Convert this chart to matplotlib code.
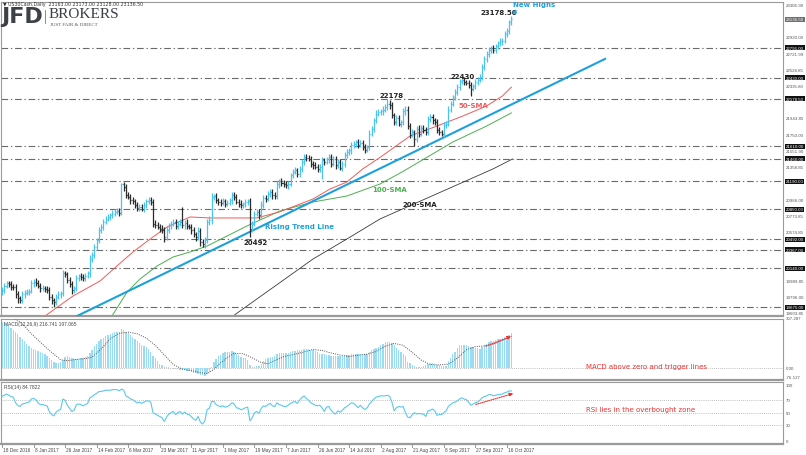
import matplotlib
matplotlib.use('Agg')
import matplotlib.pyplot as plt
import numpy as np

# ---------------- DATA ----------------
date_labels = ['18 Dec 2016', '8 Jan 2017', '26 Jan 2017', '14 Feb 2017', '6 Mar 2017',
               '23 Mar 2017', '11 Apr 2017', '1 May 2017', '19 May 2017', '7 Jun 2017',
               '26 Jun 2017', '14 Jul 2017', '2 Aug 2017', '21 Aug 2017', '8 Sep 2017',
               '27 Sep 2017', '16 Oct 2017']
label_step = 14

first_open = 19860
close = [
    19880, 19930, 19960, 19950, 19920, 19915, 19830, 19780, 19760, 19830,
    19850, 19860, 19870, 19960, 19980, 19970, 19930, 19900, 19900, 19890,
    19880, 19800, 19760, 19740, 19800, 19830, 19840, 20080, 20070, 20000,
    19950, 19880, 19900, 20030, 20050, 20040, 20020, 20050, 20080, 20250,
    20300, 20400, 20480, 20600, 20640, 20700, 20740, 20760, 20780, 20800,
    20820, 20830, 20810, 21150, 21120, 21020, 21000, 20960, 20950, 20900,
    20870, 20880, 20860, 20900, 20950, 20960, 20940, 20680, 20660, 20640,
    20620, 20600, 20520, 20600, 20660, 20680, 20700, 20650, 20680, 20700,
    20660, 20690, 20650, 20640, 20600, 20550, 20520, 20590, 20460, 20430,
    20480, 20700, 20720, 21000, 21010, 20960, 20940, 20930, 20950, 20920,
    20930, 20960, 21020, 21000, 20940, 20920, 20900, 20910, 20940, 20950,
    20620, 20680, 20800, 20820, 20780, 20900, 20990, 20980, 21030, 21060,
    21020, 21010, 21150, 21190, 21170, 21150, 21140, 21160, 21260, 21300,
    21320, 21280, 21330, 21420, 21480, 21470, 21460, 21400, 21380, 21360,
    21340, 21360, 21440, 21420, 21450, 21480, 21400, 21460, 21380, 21420,
    21350, 21400, 21500, 21540, 21560, 21620, 21640, 21660, 21630, 21650,
    21600, 21570, 21600, 21760, 21820, 21920, 22000, 22020, 22030, 22050,
    22080, 22120, 22100, 21980, 21900, 21950, 21880, 21900, 22030, 22050,
    21850, 21750, 21780, 21700, 21820, 21760, 21830, 21800, 21780, 21940,
    21960, 21920, 21900, 21800, 21780, 21760, 21870, 21880, 22050, 22120,
    22200, 22260, 22320, 22390, 22400, 22380, 22370, 22340, 22300, 22330,
    22380, 22410, 22440, 22560, 22660, 22720, 22760, 22790, 22770, 22810,
    22850, 22870, 22880, 22960, 22990, 23100, 23136.5]

up_wick = [
    40, 30, 35, 25, 45, 30, 40, 35, 30, 45,
    30, 35, 25, 40, 30, 45, 35, 30, 40, 30,
    35, 40, 30, 25, 35, 40, 30, 45, 35, 30,
    40, 35, 30, 35, 25, 40, 30, 35, 30, 50,
    40, 35, 30, 40, 35, 30, 25, 35, 30, 40,
    30, 35, 40, 20, 30, 40, 35, 30, 45, 30,
    35, 40, 30, 35, 30, 40, 35, 30, 40, 35,
    30, 40, 35, 45, 30, 35, 40, 30, 35, 30,
    180, 35, 40, 30, 35, 40, 30, 45, 35, 30,
    40, 35, 50, 45, 30, 35, 30, 40, 35, 30,
    35, 30, 40, 35, 30, 35, 40, 30, 35, 30,
    40, 35, 30, 40, 35, 45, 30, 35, 40, 30,
    35, 40, 45, 30, 35, 30, 40, 35, 30, 40,
    35, 30, 40, 35, 30, 40, 35, 30, 35, 40,
    30, 35, 40, 30, 35, 40, 30, 35, 30, 40,
    35, 30, 40, 35, 30, 40, 35, 30, 35, 40,
    30, 35, 30, 40, 35, 30, 40, 35, 30, 40,
    35, 58, 40, 45, 30, 35, 40, 30, 35, 40,
    45, 35, 40, 30, 35, 40, 30, 35, 40, 30,
    35, 40, 30, 35, 40, 30, 35, 30, 40, 35,
    30, 40, 35, 30, 35, 40, 30, 35, 40, 30,
    35, 30, 40, 35, 30, 35, 40, 30, 35, 30,
    30, 35, 30, 40, 35, 30, 42]

down_wick = [
    35, 40, 30, 35, 40, 30, 45, 50, 40, 35,
    40, 30, 35, 30, 40, 35, 30, 40, 35, 30,
    40, 35, 45, 60, 35, 30, 40, 30, 35, 40,
    35, 45, 40, 30, 35, 40, 30, 35, 30, 40,
    30, 35, 40, 30, 35, 40, 30, 35, 40, 30,
    35, 30, 40, 30, 45, 35, 30, 40, 35, 30,
    40, 35, 30, 40, 35, 30, 35, 40, 35, 30,
    40, 35, 65, 35, 30, 40, 35, 30, 40, 35,
    30, 40, 35, 30, 40, 35, 45, 40, 50, 35,
    40, 30, 35, 40, 35, 30, 40, 35, 30, 40,
    35, 30, 40, 35, 30, 40, 35, 30, 35, 40,
    100, 40, 35, 30, 40, 35, 30, 40, 35, 30,
    40, 35, 30, 40, 35, 30, 35, 40, 30, 35,
    30, 40, 35, 30, 35, 40, 30, 35, 40, 30,
    35, 40, 140, 35, 30, 40, 35, 30, 40, 35,
    30, 35, 40, 30, 35, 40, 30, 35, 40, 30,
    35, 40, 30, 35, 30, 40, 35, 30, 35, 40,
    30, 35, 40, 30, 35, 40, 30, 35, 30, 40,
    35, 40, 30, 90, 35, 40, 30, 35, 40, 30,
    35, 40, 30, 35, 40, 30, 35, 40, 30, 35,
    30, 35, 40, 30, 35, 40, 30, 35, 90, 30,
    35, 40, 30, 35, 30, 40, 35, 30, 35, 40,
    30, 35, 40, 30, 35, 30, 30]

sma50_idx = [12.4, 19.1, 31.5, 43.5, 51, 58.1, 65.7, 73.2, 83.4, 92.3, 101, 113, 123, 138,
             145.5, 153, 160, 168, 181, 193, 204.5, 215, 222, 226]
sma50_val = [19436, 19569, 19809, 19989, 20170, 20338, 20494, 20638, 20759, 20747, 20747, 20747,
             20819, 20975, 21095, 21179, 21336, 21480, 21732, 21852, 21973, 22093, 22213, 22320]
sma100_idx = [45.7, 48.8, 55.5, 61.2, 68.8, 75.9, 83.4, 91, 108.7, 123.3, 138, 153, 167.7,
              177.5, 200, 215, 226]
sma100_val = [19436, 19569, 19857, 20013, 20170, 20278, 20338, 20410, 20651, 20831, 20939,
              21011, 21155, 21300, 21660, 21852, 22010]
sma200_idx = [96.7, 102.5, 138, 153, 167.7, 217.8, 226.5]
sma200_val = [19460, 19569, 20254, 20494, 20735, 21336, 21456]

trend_idx = [30, 268]
trend_val = [19525, 22665]

levels = [22795.0, 22430.0, 22178.5, 21610.0, 21460.0, 21190.0, 20850.0, 20492.0,
          20367.0, 20140.0, 19675.0]
price_ticks = [23306.90, 22920.00, 22721.99, 22528.85, 22335.80, 21943.85, 21750.00,
               21551.90, 21358.85, 20966.00, 20773.85, 20574.85, 19989.85, 19796.00, 19603.85]
last_price = 23136.50

macd_main = [
    287, 282, 275, 262, 250, 236, 222, 208, 194, 178,
    164, 150, 138, 126, 119, 112, 106, 100, 92, 83,
    75, 62, 48, 38, 28, 30, 38, 48, 70, 75,
    66, 58, 54, 55, 56, 58, 62, 66, 72, 95,
    112, 133, 150, 165, 178, 188, 198, 206, 213, 219,
    222, 224, 225, 240, 235, 226, 215, 204, 194, 180,
    165, 152, 143, 136, 132, 118, 96, 75, 58, 40,
    25, 18, 8, 6, 2, -3, -6, -8, -10, -12,
    -12, -16, -19, -23, -28, -32, -34, -36, -42, -48,
    -50, -40, -28, 8, 35, 55, 72, 82, 90, 98,
    100, 101, 102, 96, 88, 78, 70, 64, 58, 50,
    18, 8, 6, 10, 12, 26, 40, 52, 60, 66,
    69, 74, 84, 90, 92, 93, 93, 94, 98, 102,
    106, 108, 110, 114, 118, 120, 118, 114, 110, 104,
    96, 89, 86, 84, 82, 80, 76, 75, 73, 72,
    72, 74, 77, 79, 82, 85, 87, 89, 88, 87,
    86, 85, 85, 96, 108, 118, 126, 132, 142, 150,
    158, 162, 158, 152, 140, 125, 110, 98, 89, 72,
    37, 28, 18, 12, 8, 5, 8, 11, 16, 24,
    28, 30, 26, 20, 16, 12, 10, 9, 40, 62,
    84, 100, 122, 140, 143, 142, 141, 138, 132, 130,
    126, 122, 120, 132, 142, 150, 158, 166, 170, 173,
    177, 180, 185, 190, 195, 205, 217]
signal_idx = [0, 5, 9, 13, 17, 21, 26, 29, 33, 37, 40, 44, 48, 52, 56, 60, 64, 68, 72, 76,
              80, 84, 88, 91, 94, 97, 100, 103, 107, 111, 115, 118, 121, 125, 129, 133, 138,
              142, 146, 150, 154, 158, 162, 166, 170, 174, 178, 182, 186, 190, 194, 198, 202,
              206, 210, 214, 218, 222, 226]
signal_val = [360, 315, 275, 212, 160, 108, 50, 44, 52, 58, 66, 118, 180, 215, 222, 212, 185,
              140, 80, 20, -8, -18, -30, -37, -10, 30, 65, 90, 88, 62, 32, 26, 45, 70, 82, 95,
              114, 108, 92, 80, 70, 78, 85, 102, 134, 152, 140, 96, 48, 20, 18, 22, 60, 112,
              132, 136, 148, 170, 197]

rsi = [
    76, 78, 80, 78, 76, 75, 66, 62, 60, 64,
    65, 66, 67, 72, 73, 71, 66, 63, 63, 62,
    61, 52, 47, 45, 51, 54, 55, 72, 70, 62,
    57, 52, 54, 63, 64, 63, 61, 63, 65, 74,
    76, 79, 81, 84, 84, 85, 86, 86, 86, 87,
    87, 87, 85, 88, 86, 77, 75, 72, 71, 68,
    66, 67, 65, 67, 69, 69, 67, 50, 48, 46,
    44, 42, 36, 43, 48, 50, 52, 47, 50, 52,
    48, 51, 48, 47, 44, 40, 38, 44, 35, 32,
    37, 55, 57, 68, 68, 63, 61, 60, 61, 59,
    60, 62, 66, 64, 58, 57, 55, 56, 58, 59,
    37, 42, 50, 52, 49, 57, 61, 60, 63, 65,
    61, 60, 66, 63, 62, 60, 60, 62, 65, 67,
    68, 65, 70, 74, 77, 73, 70, 66, 64, 62,
    61, 62, 58, 52, 59, 60, 54, 50, 48, 53,
    51, 54, 58, 60, 63, 66, 65, 62, 58, 62,
    58, 55, 58, 64, 68, 72, 75, 76, 77, 77,
    77, 78, 76, 67, 53, 58, 60, 59, 60, 50,
    43, 42, 47, 50, 48, 49, 48, 48, 44, 53,
    54, 56, 53, 46, 47, 47, 50, 53, 60, 63,
    66, 67, 69, 72, 74, 72, 71, 67, 62, 64,
    66, 67, 70, 74, 76, 77, 79, 79, 77, 78,
    79, 79, 80, 82, 83, 85, 84.8]
rsi_levels = [70, 50, 30]

# ---------------- LAYOUT ----------------
W, H = 806, 456
fig = plt.figure(figsize=(W / 100, H / 100), dpi=100)
fig.patch.set_facecolor('white')
plt.rcParams['font.family'] = ['DejaVu Sans']
SMALL = 'Liberation Sans'


def fx(px):
    return px / W


def fy(py):
    return 1 - py / H


X0, X1 = 1, 783
BAR_PX = 2.254
FIRST_PX = 2.0


def rect(top, bottom):
    return [fx(X0), fy(bottom), fx(X1) - fx(X0), fy(top) - fy(bottom)]


ax = fig.add_axes(rect(3, 317))
axm = fig.add_axes(rect(319.5, 381))
axr = fig.add_axes(rect(382.5, 445))

xl = ((X0 - FIRST_PX) / BAR_PX, (X1 - FIRST_PX) / BAR_PX)
for a in (ax, axm, axr):
    a.set_xlim(*xl)
    a.set_xticks([])
    a.set_yticks([])
    a.set_facecolor('white')
    for s in a.spines.values():
        s.set_color('#9a9a9a')
        s.set_linewidth(0.8)
    a.spines['bottom'].set_linewidth(1.6)

ax.set_ylim(19568.7, 23342.96)
axm.set_ylim(-76.127, 307.287)
axr.set_ylim(0, 100)

n = len(close)
idx = np.arange(n)
close_a = np.array(close, dtype=float)
open_a = np.concatenate([[first_open], close_a[:-1]])
high_a = np.maximum(open_a, close_a) + np.array(up_wick)
low_a = np.minimum(open_a, close_a) - np.array(down_wick)
up = close_a >= open_a
cols = np.where(up, '#4cc2ee', '#2a2a2a')

# level lines
for lv in levels:
    ax.axhline(lv, color='#6a6a6a', lw=0.8, dashes=(6, 2.5, 1.2, 2.5), zorder=1)

# moving averages & trend line
ax.plot(sma200_idx, sma200_val, color='#3a3a3a', lw=0.6, zorder=2)
ax.plot(sma100_idx, sma100_val, color='#4caf50', lw=0.7, zorder=2)
ax.plot(sma50_idx, sma50_val, color='#f05a5a', lw=0.7, zorder=2)
ax.plot(trend_idx, trend_val, color='#1da1dc', lw=1.5, zorder=3, solid_capstyle='butt')

# OHLC bars
ax.vlines(idx, low_a, high_a, colors=cols, lw=0.9, zorder=4)
ax.hlines(open_a, idx - 0.45, idx, colors=cols, lw=0.9, zorder=4)
ax.hlines(close_a, idx, idx + 0.45, colors=cols, lw=0.9, zorder=4)

# annotations (main)
ax.text(173, 22225, '22178', fontsize=5, fontweight='bold', color='#222', ha='center', va='center', zorder=6)
ax.text(204.5, 22453, '22430', fontsize=5, fontweight='bold', color='#222', ha='center', va='center', zorder=6)
ax.text(220.5, 23222, '23178.50', fontsize=5, fontweight='bold', color='#222', ha='center', va='center', zorder=6)
ax.text(226.8, 23315, 'New Highs', fontsize=5, fontweight='bold', color='#1da1dc', ha='left', va='center',
        zorder=6, clip_on=False)
ax.annotate('', xy=(228.6, 23290), xytext=(227.2, 23195),
            arrowprops=dict(arrowstyle='-|>', color='#1da1dc', lw=1.0, mutation_scale=5), zorder=6)
ax.text(209, 22105, '50-SMA', fontsize=5, fontweight='bold', color='#f05a5a', ha='center', va='center', zorder=6)
ax.text(172, 21095, '100-SMA', fontsize=5, fontweight='bold', color='#4caf50', ha='center', va='center', zorder=6)
ax.text(185.4, 20915, '200-SMA', fontsize=5, fontweight='bold', color='#222', ha='center', va='center', zorder=6)
ax.text(132, 20650, 'Rising Trend Line', fontsize=5, fontweight='bold', color='#1da1dc', ha='center',
        va='center', zorder=6)
ax.text(112.7, 20458, '20492', fontsize=5, fontweight='bold', color='#222', ha='center', va='center', zorder=6)

# right price axis labels
ytr = ax.get_yaxis_transform()
RX = 1 + 3 / (X1 - X0)
LFS = 3.2
for p in price_ticks:
    ax.text(RX, p, f'{p:.2f}', transform=ytr, fontsize=LFS, color='#555', ha='left', va='center',
            clip_on=False, family=SMALL)
for lv in levels:
    ax.text(RX, lv, f'{lv:.2f}', transform=ytr, fontsize=LFS, color='white', ha='left', va='center',
            clip_on=False, family=SMALL, bbox=dict(boxstyle='square,pad=0.12', fc='#111', ec='none'))
ax.text(RX, last_price, f'{last_price:.2f}', transform=ytr, fontsize=LFS, color='white', ha='left',
        va='center', clip_on=False, family=SMALL,
        bbox=dict(boxstyle='square,pad=0.12', fc='#6e6e6e', ec='none'))

# MACD panel
axm.bar(idx, macd_main, width=0.6, color='#9adcf3', edgecolor='none', zorder=2)
axm.axhline(0, color='#aaaaaa', lw=0.6, ls=(0, (1, 1.5)), zorder=1)
axm.plot(signal_idx, signal_val, color='#555555', lw=0.7, ls=(0, (1, 1.3)), zorder=3)
axm.annotate('', xy=(227, 202), xytext=(213.5, 128),
             arrowprops=dict(arrowstyle='-|>', color='#f03030', lw=0.8, ls=(0, (1, 1)), mutation_scale=5),
             zorder=5)
axm.text(0.004, 0.96, 'MACD(12,26,9) 216.741 197.065', transform=axm.transAxes, fontsize=3.5, color='#444',
         ha='left', va='top', family=SMALL)
ymt = axm.get_yaxis_transform()
for v, s in [(307.287, '307.287'), (0, '0.00'), (-55, '-76.127')]:
    axm.text(RX, v, s, transform=ymt, fontsize=LFS, color='#555', ha='left', va='center', clip_on=False,
             family=SMALL)
fig.text(fx(586), fy(367), 'MACD above zero and trigger lines', fontsize=5, color='#f03030', ha='left',
         va='center')

# RSI panel
for lv in rsi_levels:
    axr.axhline(lv, color='#aaaaaa', lw=0.6, ls=(0, (1, 1.5)), zorder=1)
axr.plot(idx, rsi, color='#5bc8ec', lw=0.8, zorder=3)
axr.annotate('', xy=(228, 82), xytext=(209, 62),
             arrowprops=dict(arrowstyle='-|>', color='#f03030', lw=0.8, ls=(0, (1, 1)), mutation_scale=5),
             zorder=5)
axr.text(0.004, 0.96, 'RSI(14) 84.7822', transform=axr.transAxes, fontsize=3.5, color='#444', ha='left',
         va='top', family=SMALL)
yrt = axr.get_yaxis_transform()
for v in [100, 70, 50, 30, 0]:
    axr.text(RX, v if 0 < v < 100 else (95 if v == 100 else 5), str(v), transform=yrt, fontsize=LFS,
             color='#555', ha='left', va='center', clip_on=False, family=SMALL)
fig.text(fx(586), fy(410), 'RSI lies in the overbought zone', fontsize=5, color='#f03030', ha='left',
         va='center')

# date labels
for k, lab in enumerate(date_labels):
    i = k * label_step
    px = FIRST_PX + i * BAR_PX
    fig.text(fx(px + 1), fy(450.5), lab, fontsize=3.4, color='#444', ha='left', va='center', family=SMALL)
    fig.add_artist(plt.Line2D([fx(px), fx(px)], [fy(445), fy(448)], color='#888', lw=0.6))

# header + logo
fig.text(fx(3), fy(4.5), '\u25bc US30Cash,Daily  23163.00 23173.00 23128.00 23136.50', fontsize=3.4,
         color='#333', ha='left', va='center')
fig.text(fx(1), fy(17), 'JFD', fontsize=16, fontweight='bold', color='#3b4147', ha='left', va='center',
         family='DejaVu Sans')
fig.add_artist(plt.Line2D([fx(45), fx(45)], [fy(11), fy(24)], color='#777', lw=0.6))
fig.text(fx(49), fy(14.5), 'BROKERS', fontsize=11, color='#3b4147', ha='left', va='center',
         family='Liberation Serif')
fig.text(fx(49.5), fy(24.5), 'JUST FAIR & DIRECT', fontsize=3.6, color='#555', ha='left', va='center',
         family='Liberation Serif')

fig.savefig('out.png', dpi=100, facecolor='white')
